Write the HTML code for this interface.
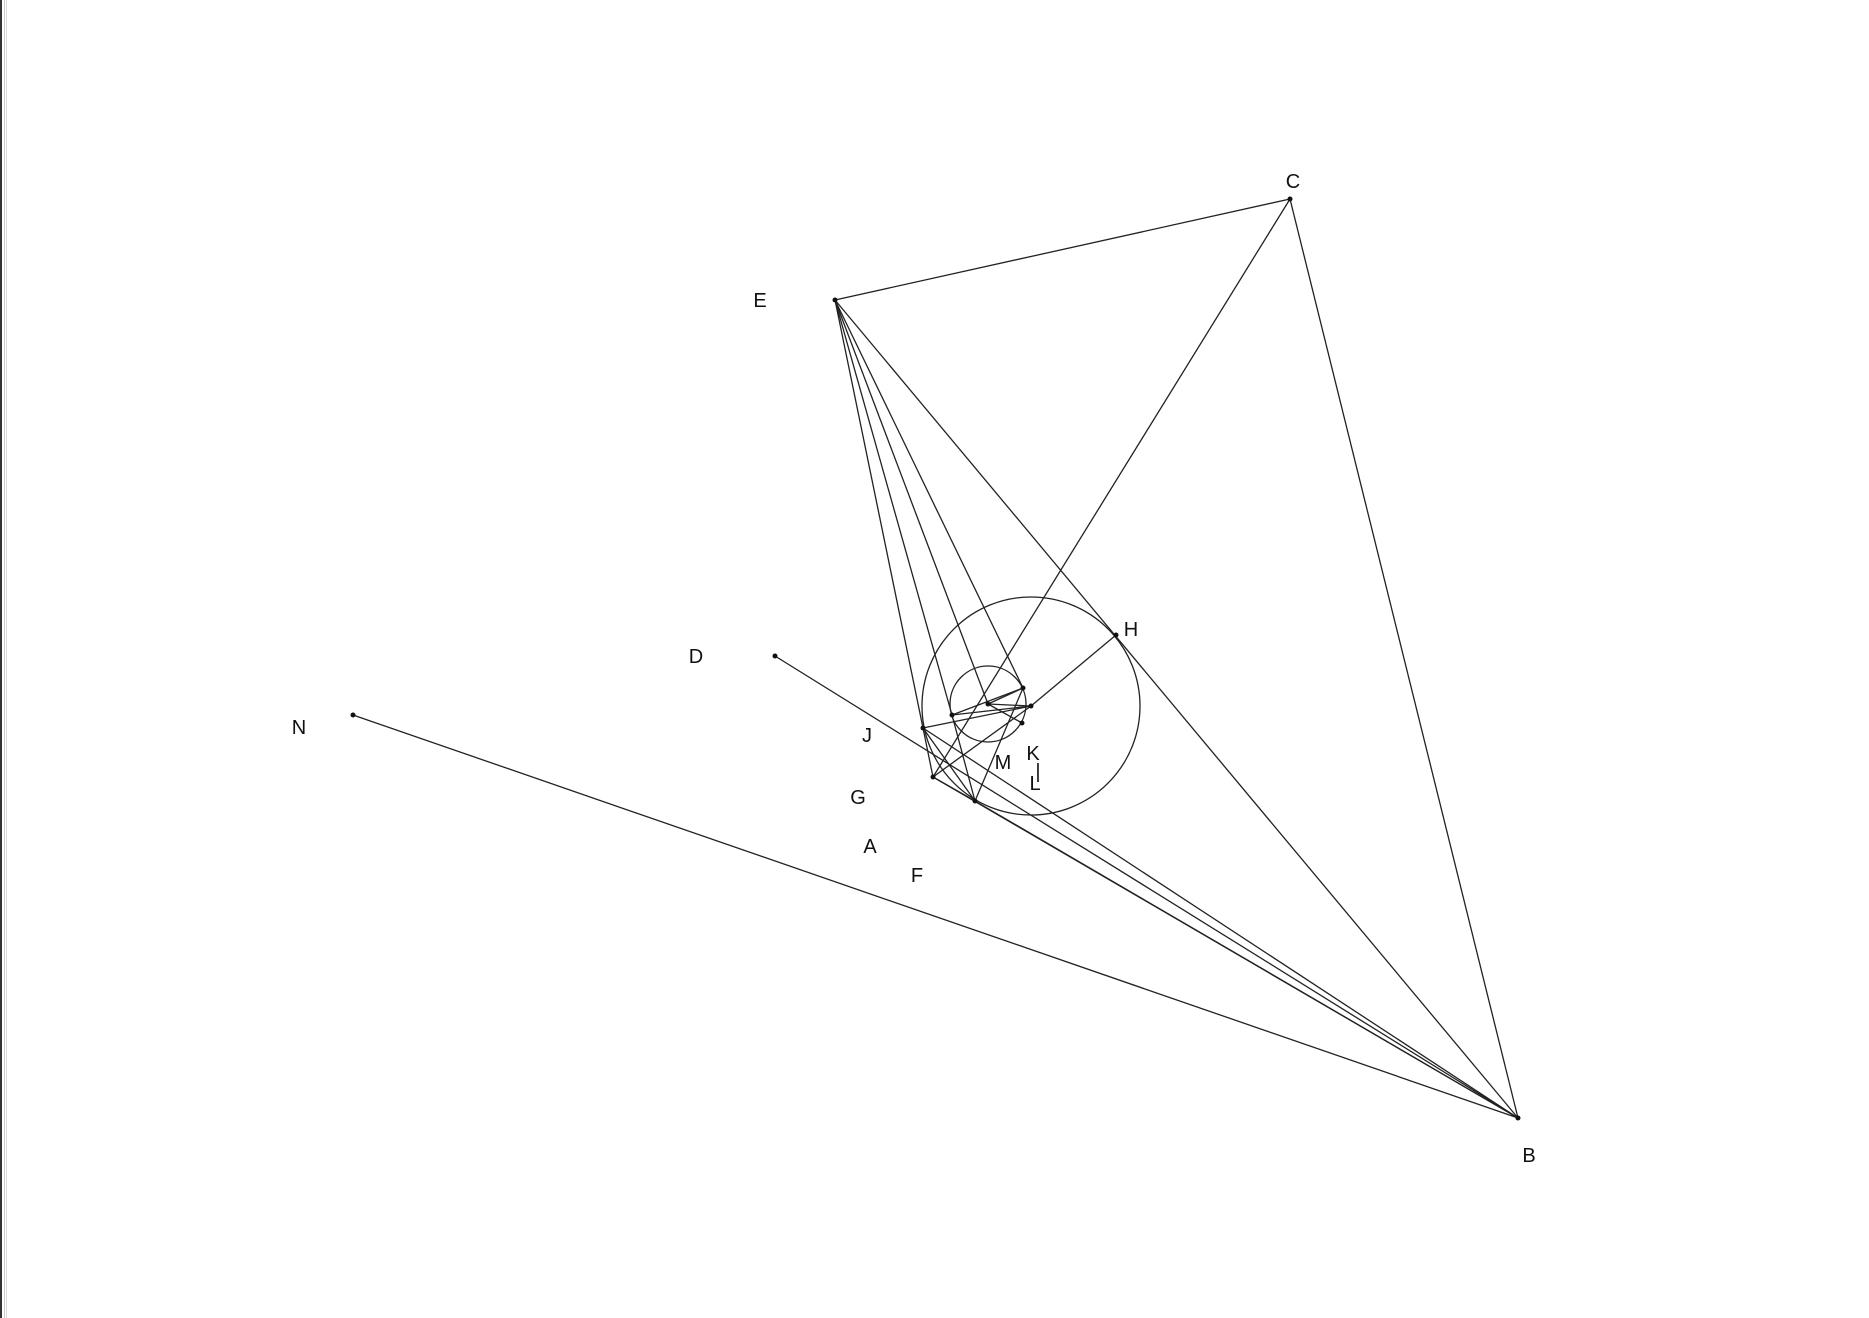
<!DOCTYPE html>
<html><head><meta charset="utf-8"><style>
html,body{margin:0;padding:0;background:#fff;}
svg{display:block;}
text{font-family:"Liberation Sans","DejaVu Sans",sans-serif;font-size:20px;fill:#111;}
</style></head><body>
<svg id="fig" width="1869" height="1318" viewBox="0 0 1869 1318">
<rect x="0" y="0" width="1869" height="1318" fill="#fff"/>
<line x1="1" y1="0" x2="1" y2="1318" stroke="#333" stroke-width="2"/>
<line x1="4.5" y1="0" x2="4.5" y2="1318" stroke="#ccc" stroke-width="1"/>
<line x1="6.5" y1="0" x2="6.5" y2="1318" stroke="#ddd" stroke-width="1"/>
<g id="shapes"></g><g id="pts"></g><g id="labels"></g>
</svg>
<script>
const pointNames = ["C","E","B","D","N","H","K","P1","O","P2","P3","J","G","F"];
const pointX = [1290,835,1518,775,353,1116,1031,1023,988,952,1022,923,933,975];
const pointY = [199,300,1118,656,715,635,706,688,704,715,723,728,777,801];
const segments = [["E","C"],["C","B"],["E","B"],["C","G"],["E","J"],["E","P2"],["E","O"],["E","P1"],
["B","N"],["B","D"],["B","J"],["B","G"],["B","F"],["H","K"],["K","P2"],["K","O"],["O","P1"],["P2","P1"],
["G","K"],["F","P1"],["J","K"],["J","G"],["G","F"],["P2","F"],["O","P3"],["J","F"]];
const circles = [{c:"K",r:109},{c:"O",r:38}];
const labelNames = ["C","E","B","D","N","H","J","G","A","F","M","K","L","|"];
const labelX = [1293,760,1529,696,299,1131,867,858,870,917,1003,1033,1035,1038];
const labelY = [188,307,1162,663,734,636,742,804,853,882,769,760,790,778];

const NS="http://www.w3.org/2000/svg";
const P=n=>{const i=pointNames.indexOf(n);return [pointX[i],pointY[i]];};
const gS=document.getElementById('shapes'),gP=document.getElementById('pts'),gL=document.getElementById('labels');
segments.forEach(s=>{const a=P(s[0]),b=P(s[1]);const l=document.createElementNS(NS,'line');
l.setAttribute('x1',a[0]);l.setAttribute('y1',a[1]);l.setAttribute('x2',b[0]);l.setAttribute('y2',b[1]);
l.setAttribute('stroke','#222');l.setAttribute('stroke-width','1.3');


gS.appendChild(l);});
circles.forEach((c,i)=>{const p=P(c.c);const e=document.createElementNS(NS,'circle');
e.setAttribute('cx',p[0]);e.setAttribute('cy',p[1]);e.setAttribute('r',c.r);
e.setAttribute('fill','none');e.setAttribute('stroke','#222');e.setAttribute('stroke-width','1.3');


gS.appendChild(e);});
pointNames.forEach((n,i)=>{const e=document.createElementNS(NS,'circle');
e.setAttribute('cx',pointX[i]);e.setAttribute('cy',pointY[i]);e.setAttribute('r',2.5);e.setAttribute('fill','#111');


gP.appendChild(e);});
labelNames.forEach((n,i)=>{const t=document.createElementNS(NS,'text');
t.setAttribute('x',labelX[i]);t.setAttribute('y',labelY[i]);t.setAttribute('text-anchor','middle');t.textContent=n;


gL.appendChild(t);});
</script>
</body></html>
